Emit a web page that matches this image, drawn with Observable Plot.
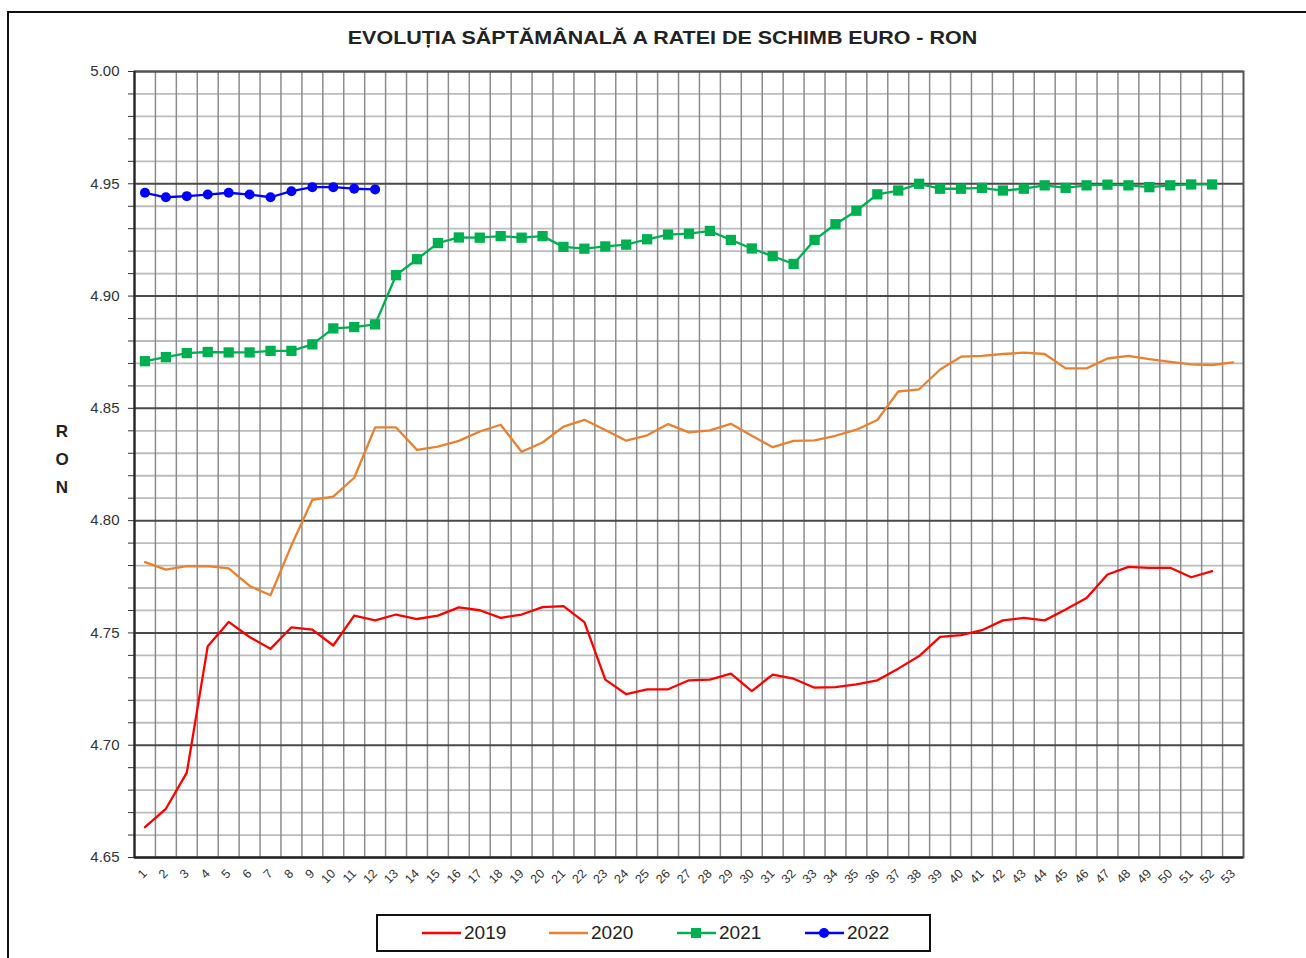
<!DOCTYPE html>
<html><head><meta charset="utf-8">
<script src="https://cdn.jsdelivr.net/npm/d3@7"></script>
<script src="https://cdn.jsdelivr.net/npm/@observablehq/plot@0.6"></script>
<style>
body{margin:0;background:#fff;font-family:"Liberation Sans",Arial,sans-serif;}
#wrap{position:relative;width:1306px;height:958px;overflow:hidden;background:#fff;}
#border{position:absolute;left:7px;top:11px;width:1400px;height:1000px;border:2px solid #111;}
#title{position:absolute;top:27px;left:0;width:1325px;text-align:center;}
#title span{display:inline-block;font-weight:bold;font-size:19px;color:#222;transform:scaleX(1.13);transform-origin:center;}
#ron{position:absolute;left:51px;top:418px;width:22px;text-align:center;font-weight:bold;font-size:17px;line-height:28px;color:#222;}
#chart{position:absolute;left:0;top:50px;}
#legend{position:absolute;left:376px;top:914px;width:551px;height:34px;border:2px solid #111;background:#fff;}
.item{position:absolute;top:0;height:34px;display:flex;align-items:center;font-size:19px;color:#222;}
.item svg{margin-right:3px;}
</style></head>
<body><div id="wrap">
<div id="border"></div>
<div id="title"><span>EVOLUȚIA SĂPTĂMÂNALĂ A RATEI DE SCHIMB EURO - RON</span></div>
<div id="ron">R<br>O<br>N</div>
<div id="chart"></div>
<div id="legend"></div>
</div>
<script>
const weeks = [1,2,3,4,5,6,7,8,9,10,11,12,13,14,15,16,17,18,19,20,21,22,23,24,25,26,27,28,29,30,31,32,33,34,35,36,37,38,39,40,41,42,43,44,45,46,47,48,49,50,51,52,53];
const years = ["2019","2020","2021","2022"];
const colors = ["#ff0000","#ea8130","#00b050","#0000ff"];
const yMajor = [4.65,4.70,4.75,4.80,4.85,4.90,4.95,5.00];
const yMinor = [4.66,4.67,4.68,4.69,4.71,4.72,4.73,4.74,4.76,4.77,4.78,4.79,4.81,4.82,4.83,4.84,4.86,4.87,4.88,4.89,4.91,4.92,4.93,4.94,4.96,4.97,4.98,4.99];

const v2019 = [4.6635,4.6717,4.6878,4.7441,4.7549,4.7482,4.7429,4.7525,4.7515,4.7444,
4.7577,4.7556,4.7582,4.7562,4.7577,4.7614,4.7601,4.7567,4.7582,4.7615,
4.7619,4.7548,4.7292,4.7227,4.7249,4.7249,4.7289,4.7292,4.7319,4.7241,
4.7314,4.7296,4.7256,4.7259,4.7271,4.7289,4.7341,4.7397,4.7482,4.7490,
4.7512,4.7556,4.7567,4.7556,4.7604,4.7656,4.7760,4.7794,4.7790,4.7790,
4.7748,4.7775];
const v2020 = [4.7815,4.7782,4.7797,4.7797,4.7787,4.7709,4.7668,4.7890,4.8093,4.8107,
4.8191,4.8415,4.8415,4.8315,4.8330,4.8355,4.8397,4.8427,4.8307,4.8348,
4.8419,4.8449,4.8404,4.8356,4.8380,4.8430,4.8393,4.8402,4.8431,4.8378,
4.8327,4.8355,4.8357,4.8378,4.8405,4.8448,4.8575,4.8585,4.8673,4.8730,
4.8734,4.8742,4.8748,4.8742,4.8678,4.8678,4.8722,4.8734,4.8719,4.8707,
4.8696,4.8693,4.8705];
const v2021 = [4.8710,4.8728,4.8746,4.8751,4.8749,4.8749,4.8756,4.8756,4.8785,4.8856,
4.8862,4.8874,4.9093,4.9164,4.9236,4.9261,4.9260,4.9267,4.9260,4.9267,
4.9219,4.9211,4.9221,4.9229,4.9253,4.9274,4.9278,4.9290,4.9250,4.9212,
4.9178,4.9143,4.9250,4.9320,4.9380,4.9453,4.9470,4.9500,4.9478,4.9478,
4.9482,4.9470,4.9478,4.9493,4.9482,4.9493,4.9496,4.9493,4.9485,4.9493,
4.9497,4.9497];
const v2022 = [4.9460,4.9440,4.9445,4.9452,4.9460,4.9452,4.9440,4.9467,4.9485,4.9485,4.9478,4.9475];

const series = [v2019, v2020, v2021, v2022];
const rows = series.map(vals => vals.map((v, i) => ({w: weeks[i], v})));
const bounds = weeks.slice(0, -1).map(w => w + 0.5);

const chart = Plot.plot({
  width: 1306, height: 850,
  marginLeft: 134, marginRight: 63, marginTop: 21, marginBottom: 43,
  style: {fontFamily: '"Liberation Sans", Arial, sans-serif', color: "#333", background: "transparent"},
  x: {type: "linear", domain: [0.5, 53.5]},
  y: {domain: [4.65, 5.00]},
  marks: [
    Plot.ruleY(yMinor, {stroke: "#bcbcbc", strokeWidth: 1.8}),
    Plot.ruleX(bounds, {stroke: "#8c8c8c", strokeWidth: 1.5}),
    Plot.ruleY(yMajor, {stroke: "#4a4a4a", strokeWidth: 2}),
    Plot.frame({stroke: "#555", strokeWidth: 2}),
    Plot.ruleX([0.5], {stroke: "#222", strokeWidth: 2}),
    Plot.ruleY([4.65], {stroke: "#222", strokeWidth: 2}),
    Plot.axisY(yMinor.concat(yMajor), {tickSize: 6, tickFormat: () => "", label: null, stroke: "#333"}),
    Plot.axisY(yMajor, {tickSize: 0, tickPadding: 15, tickFormat: d => d.toFixed(2), fontSize: 15, label: null, fill: "#333"}),
    Plot.axisX(weeks, {tickSize: 0, tickRotate: -45, tickPadding: 14, fontSize: 12.5, label: null, fill: "#333"}),
    Plot.line(rows[0], {x: "w", y: "v", stroke: colors[0], strokeWidth: 2.3}),
    Plot.line(rows[1], {x: "w", y: "v", stroke: colors[1], strokeWidth: 2.3}),
    Plot.line(rows[2], {x: "w", y: "v", stroke: colors[2], strokeWidth: 2.3}),
    Plot.dot(rows[2], {x: "w", y: "v", symbol: "square", fill: colors[2], r: 5.8}),
    Plot.line(rows[3], {x: "w", y: "v", stroke: colors[3], strokeWidth: 2.3}),
    Plot.dot(rows[3], {x: "w", y: "v", fill: colors[3], r: 5})
  ]
});
document.getElementById("chart").appendChild(chart);

const legend = document.getElementById("legend");
const lx = [44, 171, 299, 427];
years.forEach((yr, i) => {
  const it = document.createElement("div");
  it.className = "item";
  it.style.left = lx[i] + "px";
  let marker = "";
  if (i === 2) marker = `<rect x="14" y="5" width="10" height="10" fill="${colors[i]}"/>`;
  if (i === 3) marker = `<circle cx="19" cy="10" r="5" fill="${colors[i]}"/>`;
  it.innerHTML = `<svg width="39" height="20"><line x1="0" x2="39" y1="10" y2="10" stroke="${colors[i]}" stroke-width="2.5"/>${marker}</svg><span>${yr}</span>`;
  legend.appendChild(it);
});
</script>
</body></html>
